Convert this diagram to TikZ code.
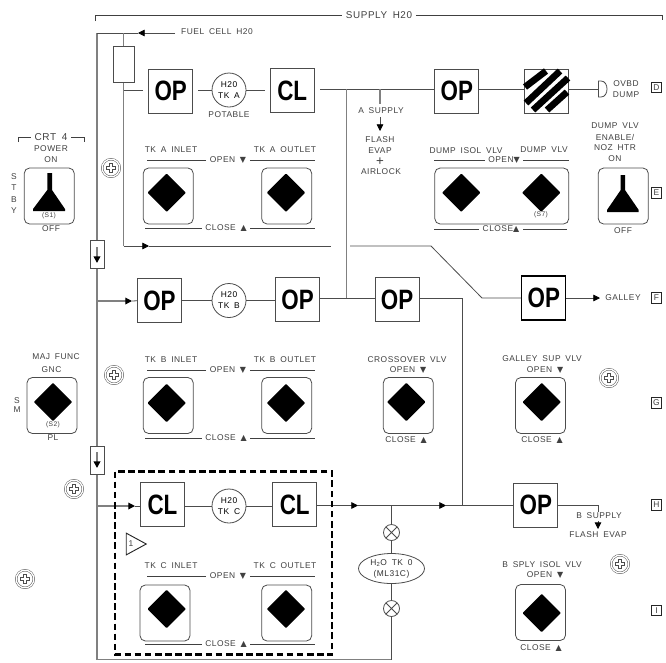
\documentclass[tikz,border=0pt]{standalone}
\usepackage{fontspec}
\setmainfont[LetterSpace=6,WordSpace=1.7]{Liberation Sans}
\newfontfamily\opfont{Liberation Sans}
\newfontfamily\symfont{DejaVu Sans}
\usetikzlibrary{arrows.meta,shapes.geometric}
\newcommand{\bigtag}[1]{\scalebox{.8}[1]{\fontsize{21}{21}\opfont\bfseries #1}}
\newcommand{\dnmark}{{\symfont\fontsize{6}{6}\selectfont ▼}}
\newcommand{\upmark}{{\symfont\fontsize{6}{6}\selectfont ▲}}
\tikzset{
  vbox/.style={draw=black!70, line width=.7pt, minimum width=33pt, minimum height=33pt, inner sep=0pt, fill=white},
  tank/.style={circle, draw=black!70, line width=.6pt, minimum size=25.5pt, inner sep=0pt, align=center},
  panel/.style={draw=black!70, line width=.6pt, rounded corners=4pt, minimum width=37.5pt, minimum height=42pt},
  knob/.style={diamond, fill=black, aspect=1, minimum size=29pt, inner sep=0pt, rounded corners=.6pt},
  pipe/.style={draw=black!70, line width=.6pt},
  main/.style={draw=black!50, line width=1.2pt},
  mid/.style={draw=black!50, line width=.9pt},
  flow/.style={-{Triangle[length=5pt,width=5pt,color=black]}},
  gap/.style={shorten >=3.8pt},
  rule/.style={draw=black!75, line width=.6pt},
  lab/.style={text=black!75, inner sep=1pt, align=center},
  bar/.style={lab, inner sep=2.6pt},
  small/.style={lab, font=\fontsize{5}{6}\selectfont},
  tagbox/.style={draw=black!85, line width=.9pt, minimum size=8pt, inner sep=0pt, text=black!75},
  sw/.style={circle, draw=black!70, line width=.6pt, minimum size=12pt, inner sep=0pt,
    path picture={\draw[black!70, line width=.6pt] (path picture bounding box.north west) -- (path picture bounding box.south east)
      (path picture bounding box.north east) -- (path picture bounding box.south west);}},
  screw/.style={circle, draw=black!70, line width=.35pt, double, double distance=1pt, minimum size=13.2pt, inner sep=0pt,
    path picture={
      \draw[black!70, line width=2.6pt] ([xshift=-3.6pt]path picture bounding box.center) -- ([xshift=3.6pt]path picture bounding box.center)
        ([yshift=-3.6pt]path picture bounding box.center) -- ([yshift=3.6pt]path picture bounding box.center);
      \draw[white, line width=1.6pt] ([xshift=-3.2pt]path picture bounding box.center) -- ([xshift=3.2pt]path picture bounding box.center)
        ([yshift=-3.2pt]path picture bounding box.center) -- ([yshift=3.2pt]path picture bounding box.center);}}
}
\begin{document}
\begin{tikzpicture}[x=.75pt, y=-.75pt, font=\fontsize{6.3}{8.2}\selectfont]
  \useasboundingbox (0,0) rectangle (666,662);

  % valves on the three tank rows
  \node[vbox] (opA) at (170.75,91.25) {\bigtag{OP}};
  \node[tank] (tkA) at (229,90) {H20\\TK A};
  \node[vbox] (clA) at (292.25,90.5) {\bigtag{CL}};
  \node[vbox] (opD) at (456.75,91.25) {\bigtag{OP}};
  \node[vbox] (hatch) at (546.5,91.25) {};
  \node[vbox] (opB) at (159.5,300.75) {\bigtag{OP}};
  \node[tank] (tkB) at (229,300.5) {H20\\TK B};
  \node[vbox] (opO) at (297.5,299.5) {\bigtag{OP}};
  \node[vbox] (opX) at (397,299.5) {\bigtag{OP}};
  \node[vbox, draw=black, line width=1.1pt] (opG) at (543.75,298) {\bigtag{OP}};
  \node[vbox] (clC) at (162.5,504.5) {\bigtag{CL}};
  \node[tank] (tkC) at (229,506) {H20\\TK C};
  \node[vbox] (clO) at (294.75,504.5) {\bigtag{CL}};
  \node[vbox] (opS) at (535.75,505) {\bigtag{OP}};

  % stripes of the dump valve
  \foreach \xa/\ya/\xb/\yb in {525/87/546/71, 526/103/560/71, 533/110/568/78, 547/110/567/92}
    \draw[line width=5pt] (\xa,\ya) -- (\xb,\yb);

  % supply lines
  \coordinate (mTop) at (97,33);
  \coordinate (mBot) at (97,659.5);
  \coordinate (fuel) at (175,33);
  \coordinate (fuelTip) at (138,33);
  \coordinate (fil) at (123.5,33);
  \coordinate (filLow) at (123.5,246);
  \coordinate (fwdTip) at (149,246);
  \coordinate (cutA) at (331,246);
  \coordinate (cutB) at (350,246);
  \coordinate (bend) at (431,246);
  \coordinate (bendB) at (482,298);
  \coordinate (jA) at (346.5,89);
  \coordinate (jB) at (346.5,298);
  \coordinate (jS) at (380,89);
  \coordinate (jS2) at (380,104);
  \coordinate (jS3) at (380,117);
  \coordinate (jS4) at (380,131);
  \coordinate (dumpIn) at (598,89);
  \coordinate (jX) at (462.5,298);
  \coordinate (jY) at (462.5,505.5);
  \coordinate (jZ) at (391.5,505.5);
  \coordinate (tipC) at (135,506);
  \coordinate (tipB) at (132,301);
  \coordinate (tipD) at (358,505.5);
  \coordinate (tipE) at (446,505.5);
  \coordinate (bOut) at (598,505);
  \coordinate (bIn) at (598,511.5);
  \coordinate (bTip) at (598,529);
  \coordinate (bTop) at (598,521);
  \coordinate (galTip) at (600,298);

  \draw[main] (mTop) -- (mBot);
  \draw[mid] (mBot) -- (mBot -| jZ);
  \draw[pipe] (mBot -| jZ) -- (jZ);
  \draw[pipe] (mTop) -- (fil);
  \draw[pipe, flow] (fuel) -- (fuelTip);
  \draw[pipe] (fuelTip) -- (mTop);
  \draw[mid] (fil) -- (filLow);
  \draw[pipe, flow] (filLow) -- (fwdTip);
  \draw[pipe] (fwdTip) -- (cutA);
  \draw[pipe] (cutB) -- (bend) -- (bendB) -- (bendB -| opG.west);
  \draw[pipe, gap] (123.5,90) -- (tkA -| opA.west);
  \draw[pipe, gap] (tkA.west) -- (tkA -| opA.east);
  \draw[pipe, gap] (tkA.east) -- (tkA -| clA.west);
  \draw[pipe, gap] (jA) -- (jA -| clA.east);
  \draw[pipe] (jA) -- (jA -| opD.west);
  \draw[pipe] (jA -| opD.east) -- (jA -| hatch.west);
  \draw[pipe] (jA -| hatch.east) -- (dumpIn);
  \draw[mid] (jA) -- (jB);
  \draw[mid] (jS) -- (jS2);
  \draw[pipe, flow] (jS3) -- (jS4);
  \draw[pipe, flow] (opG.east) -- (galTip);
  \draw[mid, flow] (97,301) -- (tipB);
  \draw[pipe] (tipB) -- (opB.west);
  \draw[pipe] (opB.east |- tkB) -- (tkB.west);
  \draw[pipe] (tkB.east) -- (tkB -| opO.west);
  \draw[pipe] (jB -| opO.east) -- (jB -| opX.west);
  \draw[pipe] (jB -| opX.east) -- (jX) -- (jY);
  \draw[mid, flow] (97,506) -- (tipC);
  \draw[pipe] (tipC) -- (tipC -| clC.west);
  \draw[pipe] (tkC -| clC.east) -- (tkC.west);
  \draw[pipe] (tkC.east) -- (tkC -| clO.west);
  \draw[pipe, flow] (jY -| clO.east) -- (tipD);
  \draw[pipe, flow] (tipD) -- (tipE);
  \draw[pipe] (tipE) -- (jY -| opS.west);
  \draw[pipe] (bOut -| opS.east) -- (bOut) -- (bIn);
  \draw[pipe, flow] (bTop) -- (bTip);

  % filter and the two check valves on the main line
  \node[draw=black!70, line width=.6pt, fill=white, minimum width=15.75pt, minimum height=26.6pt, inner sep=0pt] (filter) at (124,64.25) {};
  \node[draw=black!70, line width=.7pt, fill=white, minimum width=10.5pt, minimum height=21pt, inner sep=0pt] (chkA) at (97.5,254) {};
  \node[draw=black!70, line width=.7pt, fill=white, minimum width=10.5pt, minimum height=21pt, inner sep=0pt] (chkB) at (97.5,460) {};
  \draw[main, flow] (97,247) -- (97,263);
  \draw[main, flow] (97,452) -- (97,468);

  % water tank D branch
  \node[draw=black!70, line width=.6pt, ellipse, minimum width=49.5pt, minimum height=22.5pt, inner sep=0pt, fill=white, text=black!80, align=center] (tkD) at (391.5,568.5) {H\textsubscript{2}O TK 0\\(ML31C)};
  \node[sw, fill=white] (swA) at (391.5,532.5) {};
  \node[sw, fill=white] (swB) at (391.5,608.5) {};

  % outlet cap
  \draw[pipe] (598.5,81) -- (601,81) .. controls (605,81) and (607,85) .. (607,89) .. controls (607,93) and (605,97) .. (601,97) -- (598.5,97) -- cycle;

  % switch panels
  \foreach \nm/\x/\y/\dx/\dy in {Ain/168.25/196/166.7/192.7, Aout/286.7/196/286/192.7,
      Bin/168.25/405.5/166.7/403, Bout/286.7/405.5/286/403,
      Cin/165/613/166.7/609, Cout/286.7/613/286/609,
      Xov/408.3/405.5/406.3/402, Gal/540.5/405.5/541.7/402,
      Bsp/540.5/612.5/541.7/613, Maj/52/405.5/53/402} {
    \node[panel] (pan\nm) at (\x,\y) {};
    \node[knob] (kn\nm) at (\dx,\dy) {};
  }
  \node[panel, minimum width=100.5pt] (panDump) at (501.8,196) {};
  \node[knob] (knIsol) at (461.3,192.7) {};
  \node[knob] (knDump) at (541.3,192.7) {};
  \node[panel] (panCrt) at (49.25,196) {};
  \node[panel] (panNoz) at (623.3,196) {};
  \fill (47.3,173) -- (52,173) -- (52,190) -- (65,209) -- (65,211) -- (33,211) -- (33,209) -- (47.3,190) -- cycle;
  \fill (620.7,175) -- (625,175) -- (625,190) -- (638.7,210) -- (638.7,212) -- (607,212) -- (607,210) -- (620.7,190) -- cycle;

  % open and close bars
  \foreach \nm/\ya/\yb/\txt in {A/160.5/228.5/A, B/370/438/B, C/576/644/C} {
    \node[bar] (open\nm) at (228,\ya) {OPEN \dnmark};
    \node[bar] (close\nm) at (226,\yb) {CLOSE \upmark};
    \draw[rule] (open\nm.west) -- (147,\ya);
    \draw[rule] (open\nm.east) -- (315,\ya);
    \draw[rule] (close\nm.west) -- (145,\yb);
    \draw[rule] (close\nm.east) -- (315,\yb);
    \node[lab] (in\nm) at (171,\ya-10.5) {TK \txt{} INLET};
    \node[lab] (out\nm) at (285,\ya-10.5) {TK \txt{} OUTLET};
  }
  \node[bar] (openD) at (504,160.5) {OPEN\dnmark};
  \node[bar] (closeD) at (501,229) {CLOSE\upmark};
  \draw[rule] (openD.west) -- (434,160.5);
  \draw[rule] (openD.east) -- (569,160.5);
  \draw[rule] (closeD.west) -- (434,229);
  \draw[rule] (closeD.east) -- (567,229);

  % supply bracket
  \node[bar, font=\fontsize{7.4}{8}\selectfont] (supply) at (379,15.5) {SUPPLY H20};
  \draw[rule] (95,21) -- (95,15.5) -- (supply.west);
  \draw[rule] (supply.east) -- (662.5,15.5) -- (662.5,20);

  % crt bracket
  \node[bar, font=\fontsize{7.5}{8}\selectfont] (crt) at (51,137) {CRT 4};
  \draw[rule] (18,142) -- (18,137) -- (crt.west);
  \draw[rule] (crt.east) -- (84,137) -- (84,142);

  % labels
  \foreach \nm/\x/\y/\txt in {fuelL/217/32/FUEL CELL H20, potL/229/115/POTABLE, aSup/381/111/A SUPPLY,
      flash/380/140/FLASH, evap/380/151/EVAP, air/381/172/AIRLOCK, ovbd/626/84/OVBD, dump/626/95/DUMP,
      isol/466/151/DUMP ISOL VLV, dvlv/544/150/DUMP VLV, dvA/615/126/DUMP VLV, dvB/615/137/{ENABLE/},
      dvC/615/148/NOZ HTR, dvD/615/159/ON, offE/623/231/OFF, power/51/149/POWER, on/51/160/ON,
      off/51/229/OFF, gal/623/298/GALLEY, maj/56/357/MAJ FUNC, gnc/51.5/370/GNC,
      pl/53/438/PL, xovL/407/360/CROSSOVER VLV, galL/542/359/GALLEY SUP VLV, xovO/408/370/OPEN \dnmark,
      galO/545/370/OPEN \dnmark, xovC/406/440/CLOSE \upmark, galC/542/440/CLOSE \upmark, bSup/599/516/B SUPPLY,
      flashB/598/535/FLASH EVAP, bspL/542/565/B SPLY ISOL VLV, bspO/545/575/OPEN \dnmark, bspC/541/648/CLOSE \upmark,
      stS/14/177/S, stT/14/188/T, stB/14/200/B, stY/14/211/Y, smS/17/401/S, smM/17/410/M}
    \node[lab] (\nm) at (\x,\y) {\txt};
  \foreach \nm/\x/\y/\txt in {s1/49/215.5/(S1), s2/53/424.5/(S2), s7/541/214.5/(S7)}
    \node[small] (\nm) at (\x,\y) {\txt};
  \node[lab, inner sep=0pt, font=\fontsize{10}{10}\selectfont\opfont] (plus) at (380,161.5) {+};

  % row tags
  \foreach \nm/\y in {D/87.5, E/193, F/298, G/403, H/505, I/610.5}
    \node[tagbox] (tag\nm) at (656.5,\y) {\nm};

  % mounting screws
  \foreach \nm/\x/\y in {a/111/168, b/114/375, c/74/489, d/25/579, e/620/564, f/609/378}
    \node[screw] (scr\nm) at (\x,\y) {};

  % changed-scope box
  \draw[line width=1.9pt, dash pattern=on 5pt off 2.6pt] (115,471.5) rectangle (332,654.5);
  \node[draw=black!85, line width=.7pt, isosceles triangle, isosceles triangle apex angle=57, minimum height=15pt, inner sep=0pt] (noteA) at (132.7,544) {};
  \node[lab] (noteT) at (131,544) {1};
\end{tikzpicture}
\end{document}
